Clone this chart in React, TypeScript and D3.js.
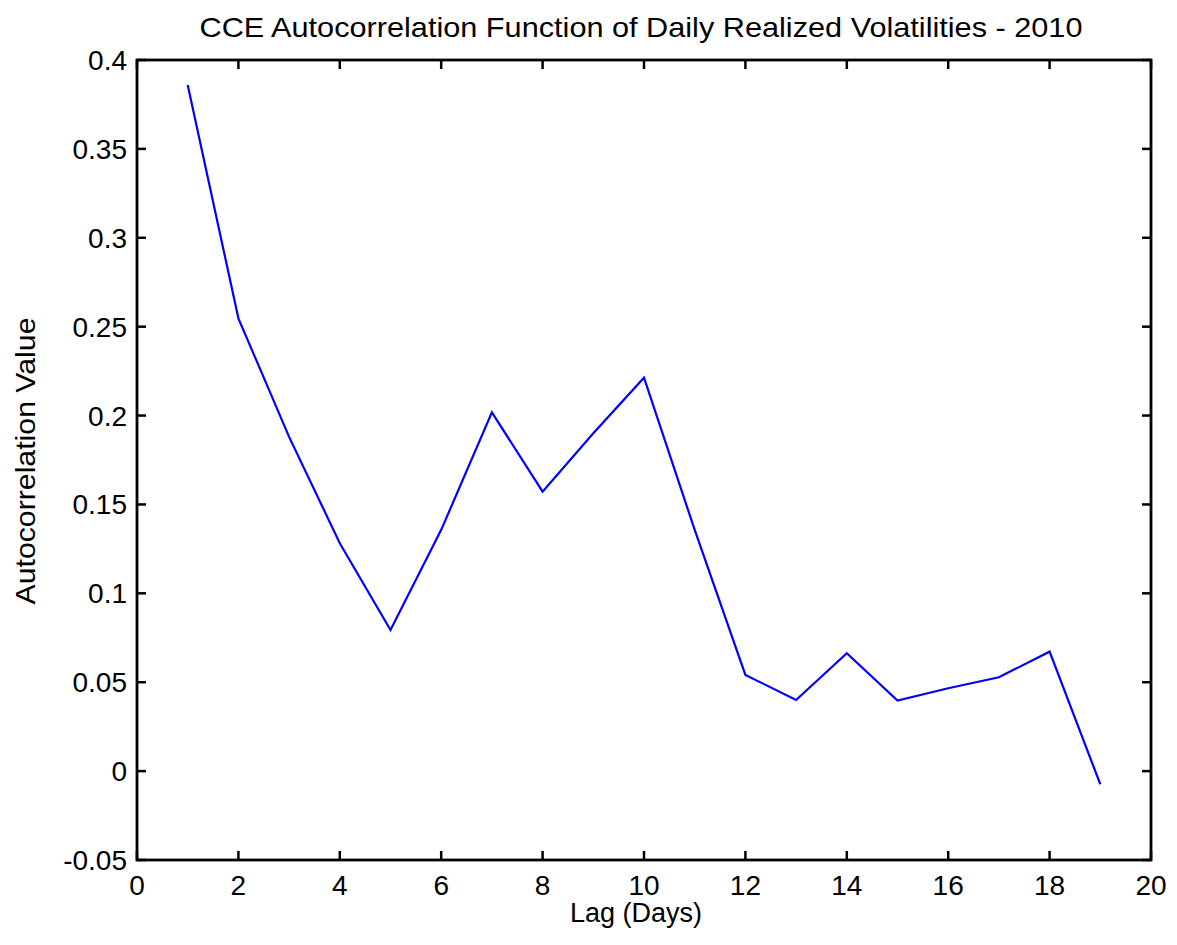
import React from "react";
import * as d3 from "d3";

const lags = [1, 2, 3, 4, 5, 6, 7, 8, 9, 10, 11, 12, 13, 14, 15, 16, 17, 18, 19];
const acf = [0.3859, 0.2547, 0.188, 0.1282, 0.0794, 0.1357, 0.2018, 0.1572, 0.19, 0.2213, 0.1357, 0.0541, 0.04, 0.0663, 0.0397, 0.0466, 0.0528, 0.0672, -0.0074];
const xTicks = [0, 2, 4, 6, 8, 10, 12, 14, 16, 18, 20];
const yTicks = [-0.05, 0, 0.05, 0.1, 0.15, 0.2, 0.25, 0.3, 0.35, 0.4];
const title = "CCE Autocorrelation Function of Daily Realized Volatilities - 2010";
const xLabel = "Lag (Days)";
const yLabel = "Autocorrelation Value";

const W = 1177, H = 945;
const L = 137, R = 1151, T = 60, B = 860;
const font = "Arial, 'Liberation Sans', sans-serif";

export default function App() {
  const x = d3.scaleLinear().domain([0, 20]).range([L, R]);
  const y = d3.scaleLinear().domain([-0.05, 0.4]).range([B, T]);
  const line = d3.line<number>().x((_, i) => x(lags[i])).y((d) => y(d));
  const tk = 9;
  const fmt = (v: number) => String(+v.toFixed(2));
  return (
    <svg width={W} height={H} style={{ position: "absolute", left: 0, top: 0, background: "#fff" }}>
      <rect x={0} y={0} width={W} height={H} fill="#fff" />
      <text x={641} y={37} fontFamily={font} fontSize={28} textAnchor="middle" fill="#000" textLength={883} lengthAdjust="spacingAndGlyphs">{title}</text>
      <path d={line(acf) || ""} fill="none" stroke="#0000ff" strokeWidth={2.2} strokeLinejoin="miter" />
      {xTicks.map((t) => (
        <g key={"x" + t}>
          <line x1={x(t)} x2={x(t)} y1={B} y2={B - tk} stroke="#000" strokeWidth={2.5} />
          <line x1={x(t)} x2={x(t)} y1={T} y2={T + tk} stroke="#000" strokeWidth={2.5} />
          <text x={x(t)} y={895} fontFamily={font} fontSize={28} textAnchor="middle" fill="#000">{t}</text>
        </g>
      ))}
      {yTicks.map((t) => (
        <g key={"y" + t}>
          <line x1={L} x2={L + tk} y1={y(t)} y2={y(t)} stroke="#000" strokeWidth={2.5} />
          <line x1={R} x2={R - tk} y1={y(t)} y2={y(t)} stroke="#000" strokeWidth={2.5} />
          <text x={127} y={y(t) + 10} fontFamily={font} fontSize={28} textAnchor="end" fill="#000">{fmt(t)}</text>
        </g>
      ))}
      <rect x={L} y={T} width={R - L} height={B - T} fill="none" stroke="#000" strokeWidth={2.8} />
      <text x={636} y={922} fontFamily={font} fontSize={27} textAnchor="middle" fill="#000">{xLabel}</text>
      <text transform={`translate(35,${461}) rotate(-90)`} fontFamily={font} fontSize={28} textAnchor="middle" fill="#000" textLength={287} lengthAdjust="spacingAndGlyphs">{yLabel}</text>
    </svg>
  );
}
